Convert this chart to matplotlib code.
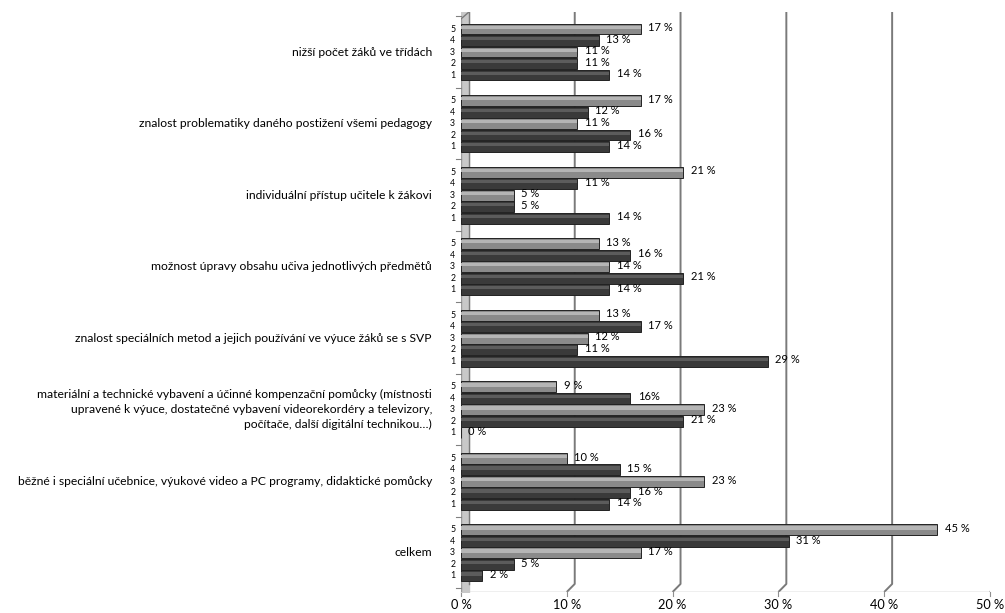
import matplotlib
matplotlib.use("Agg")
import matplotlib.pyplot as plt

CATEGORIES = [
    "nižší počet žáků ve třídách",
    "znalost problematiky daného postižení všemi pedagogy",
    "individuální přístup učitele k žákovi",
    "možnost úpravy obsahu učiva jednotlivých předmětů",
    "znalost speciálních metod a jejich používání ve výuce žáků se s SVP",
    "materiální a technické vybavení a účinné kompenzační pomůcky (místnosti\n"
    "upravené k výuce, dostatečné vybavení videorekordéry a televizory,\n"
    "počítače, další digitální technikou…)",
    "běžné i speciální učebnice, výukové video a PC programy, didaktické pomůcky",
    "celkem",
]
LEVELS = ["5", "4", "3", "2", "1"]
# percentages per category, levels 5..1
VALUES = [
    [17, 13, 11, 11, 14],
    [17, 12, 11, 16, 14],
    [21, 11, 5, 5, 14],
    [13, 16, 14, 21, 14],
    [13, 17, 12, 11, 29],
    [9, 16, 23, 21, 0],
    [10, 15, 23, 16, 14],
    [45, 31, 17, 5, 2],
]
X_TICKS = [0, 10, 20, 30, 40, 50]

LIGHT = ("#8a8a8a", "#b5b5b5")
DARK = ("#3a3a3a", "#5c5c5c")
LEVEL_STYLE = [LIGHT, DARK, LIGHT, DARK, DARK]

GROUP_STEP = 6.22
BAR_H = 0.95
DEPTH_X = 0.75   # back-wall shift of gridlines, in %
DEPTH_Y = 0.7


def main():
    plt.rcParams["font.family"] = ["Lato", "DejaVu Sans"]
    fig = plt.figure(figsize=(10.05, 6.13), dpi=100)
    ax = fig.add_axes([461 / 1005, 21 / 613, 529 / 1005, 580 / 613])

    y_top, y_bot = -1.48, 48.96
    ax.set_xlim(0, 50)
    ax.set_ylim(y_bot, y_top)

    # back wall gridlines with a short diagonal to the floor edge
    for x in X_TICKS[1:]:
        ax.plot([x + DEPTH_X, x + DEPTH_X, x], [y_top, y_bot - DEPTH_Y, y_bot],
                color="#7a7a7a", lw=1.4, zorder=1, solid_capstyle="butt")
    ax.plot([0, 50], [y_bot, y_bot], color="#b0b0b0", lw=1.0, zorder=1)
    for x in X_TICKS:
        ax.plot([x, x], [y_bot, y_bot + 0.35], color="#909090", lw=0.8,
                zorder=1, clip_on=False)

    # left wall
    ax.fill_between([0, DEPTH_X], y_top, y_bot, color="#c8c8c8", zorder=1)
    ax.plot([DEPTH_X, DEPTH_X], [y_top, y_bot - DEPTH_Y], color="#7a7a7a",
            lw=1.0, zorder=1)
    ax.plot([0, 0], [y_top + 0.6, y_bot], color="#9a9a9a", lw=1.0, zorder=1)
    ax.plot([0, DEPTH_X], [y_top + 0.6, y_top], color="#7a7a7a", lw=1.0, zorder=1)

    for g, (cat, row) in enumerate(zip(CATEGORIES, VALUES)):
        base = g * GROUP_STEP
        for i, (lev, v) in enumerate(zip(LEVELS, row)):
            y = base + i
            face, hi = LEVEL_STYLE[i]
            ax.barh(y, v, height=BAR_H, color=face, edgecolor="#222222",
                    linewidth=0.7, zorder=3)
            ax.barh(y - BAR_H * 0.16, v, height=BAR_H * 0.3, color=hi,
                    linewidth=0, zorder=4)
            label = f"{v} %"
            if g == 5 and i == 1:
                label = f"{v}%"
            ax.text(v + 0.7, y - 0.1, label, fontsize=8.0, va="center",
                    ha="left", zorder=5)
            ax.text(-0.55, y, lev, fontsize=6.3, va="center", ha="right")
        # separator tick on the category axis
        sep = base - (GROUP_STEP - 4) / 2
        ax.plot([-0.45, 0], [sep, sep], color="#808080", lw=0.8,
                clip_on=False)
        ax.text(-2.75, base + 2, cat, fontsize=8.7, va="center", ha="right",
                multialignment="right", linespacing=1.45)
    sep = 7 * GROUP_STEP + 4 + (GROUP_STEP - 4) / 2
    ax.plot([-0.45, 0], [sep, sep], color="#808080", lw=0.8, clip_on=False)

    for x in X_TICKS:
        ax.text(x, y_bot + 1.15, f"{x} %", fontsize=9.2, va="center",
                ha="center")

    ax.set_axis_off()
    fig.savefig("out.png", dpi=100)


if __name__ == "__main__":
    main()
